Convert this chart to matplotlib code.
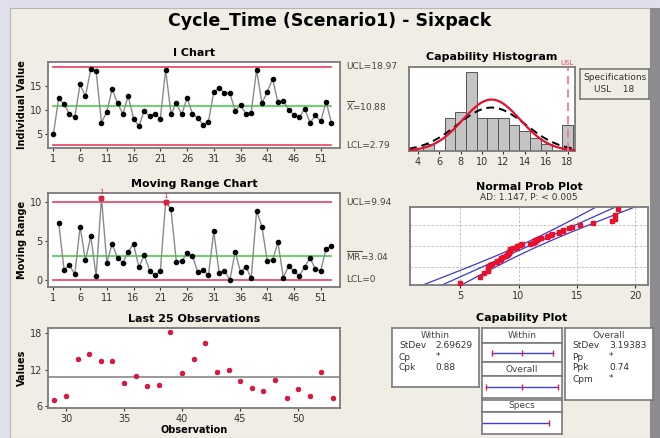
from statistics import NormalDist

import matplotlib
matplotlib.use("Agg")
import matplotlib.pyplot as plt
import numpy as np
from matplotlib.patches import Rectangle

# ---- data ----
obs_values = [5.0, 12.4, 11.2, 9.2, 8.5, 15.3, 12.8, 18.5, 18.0, 7.4,
              9.7, 14.3, 11.4, 9.2, 12.9, 8.2, 6.7, 9.9, 8.7, 9.3,
              8.2, 18.3, 9.2, 11.4, 9.1, 12.5, 9.3, 8.4, 7.0, 7.6,
              13.8, 14.6, 13.5, 13.5, 9.9, 11.0, 9.3, 9.5, 18.3, 11.4,
              13.8, 16.4, 11.6, 11.9, 10.1, 9.0, 8.5, 10.3, 7.4, 8.9,
              7.7, 11.7, 7.4]
mr_values = [7.3, 1.3, 1.9, 0.7, 6.8, 2.5, 5.6, 0.5, 10.5, 2.2,
             4.6, 2.8, 2.2, 3.6, 4.6, 1.6, 3.2, 1.2, 0.6, 1.1,
             10.0, 9.0, 2.3, 2.4, 3.4, 3.1, 1.0, 1.3, 0.6, 6.2,
             0.9, 1.2, 0.0, 3.6, 1.0, 1.7, 0.2, 8.8, 6.8, 2.4,
             2.6, 4.8, 0.3, 1.8, 1.1, 0.5, 1.7, 2.8, 1.4, 1.2,
             4.0, 4.3]
mr_flagged = [10, 22]

i_ucl, i_mean, i_lcl = 18.97, 10.88, 2.79
mr_ucl, mr_mean, mr_lcl = 9.94, 3.04, 0.0

hist_centers = [4, 5, 6, 7, 8, 9, 10, 11, 12, 13, 14, 15, 16, 17, 18]
hist_counts = [0, 1, 0, 5, 6, 12, 5, 5, 5, 4, 3, 2, 1, 0, 4]
usl = 18
sd_within = 2.69629
sd_overall = 3.19383

within_stats = [("StDev", "2.69629"), ("Cp", "*"), ("Cpk", "0.88")]
overall_stats = [("StDev", "3.19383"), ("Pp", "*"), ("Ppk", "0.74"), ("Cpm", "*")]

W, H = 660, 438
RED = "#ee4d6a"
GREEN = "#55d455"
FRAME = "#7a7a7a"
BEIGE = "#f0ede4"


def box(l, t, r, b):
    return [l / W, 1 - b / H, (r - l) / W, (b - t) / H]


def style(ax):
    ax.set_facecolor("white")
    for s in ax.spines.values():
        s.set_color(FRAME)
        s.set_linewidth(1.3)
    ax.tick_params(labelsize=7, length=2.5, width=0.8, colors="#333333", pad=1.5)


fig = plt.figure(figsize=(W / 100, H / 100), dpi=100)
fig.patch.set_facecolor("#dfe0ec")
fig.patches.append(Rectangle((10 / W, 0), 640 / W, 1 - 8 / H, transform=fig.transFigure,
                             facecolor=BEIGE, edgecolor="#b8b6ae", lw=0.8, zorder=-5))
fig.patches.append(Rectangle((650 / W, 0), 10 / W, 1 - 8 / H, transform=fig.transFigure,
                             facecolor="#8c8c90", edgecolor="none", zorder=-5))

fig.text(330 / W, 1 - 21 / H, "Cycle_Time (Scenario1) - Sixpack", ha="center", va="center",
         fontsize=12.5, fontweight="bold")

obs = np.arange(1, len(obs_values) + 1)

# ---- I chart ----
ax = fig.add_axes(box(48, 62, 340, 148))
style(ax)
for y, c in [(i_ucl, RED), (i_lcl, RED), (i_mean, GREEN)]:
    ax.plot([obs[0], obs[-1]], [y, y], color=c, lw=1.3, zorder=1)
ax.plot(obs, obs_values, color="#8a8a8a", lw=1.0, marker="o", ms=3,
        mfc="black", mec="black", zorder=2)
ax.set_xlim(0, 54.6)
ax.set_ylim(2.2, 19.9)
ax.set_xticks(range(1, 54, 5))
ax.set_yticks([5, 10, 15])
ax.set_title("I Chart", fontsize=8, fontweight="bold", pad=4)
ax.set_ylabel("Individual Value", fontsize=7, fontweight="bold", labelpad=2)
lab = dict(fontsize=6.5, color="#444444", va="center", transform=ax.get_yaxis_transform())
ax.text(1.02, i_ucl, "UCL=18.97", **lab)
ax.text(1.02, i_mean, r"$\overline{\mathrm{X}}$=10.88", **lab)
ax.text(1.02, i_lcl, "LCL=2.79", **lab)

# ---- Moving range chart ----
ax = fig.add_axes(box(48, 193, 340, 287))
style(ax)
mr_obs = obs[1:]
for y, c in [(mr_ucl, RED), (mr_lcl, RED), (mr_mean, GREEN)]:
    ax.plot([obs[0], obs[-1]], [y, y], color=c, lw=1.3, zorder=1)
ax.plot(mr_obs, mr_values, color="#8a8a8a", lw=1.0, marker="o", ms=3,
        mfc="black", mec="black", zorder=2)
for k in mr_flagged:
    v = mr_values[k - 2]
    ax.plot([k], [v], marker="s", ms=3.5, color="#e0203c", zorder=3)
    ax.text(k, v + 0.35, "1", fontsize=5, color="#c03050", ha="center", va="bottom")
ax.set_xlim(0, 54.6)
ax.set_ylim(-0.9, 11.1)
ax.set_xticks(range(1, 54, 5))
ax.set_yticks([0, 5, 10])
ax.set_title("Moving Range Chart", fontsize=8, fontweight="bold", pad=4)
ax.set_ylabel("Moving Range", fontsize=7, fontweight="bold", labelpad=2)
lab = dict(fontsize=6.5, color="#444444", va="center", transform=ax.get_yaxis_transform())
ax.text(1.02, mr_ucl, "UCL=9.94", **lab)
ax.text(1.02, mr_mean, r"$\overline{\mathrm{MR}}$=3.04", **lab)
ax.text(1.02, mr_lcl, "LCL=0", **lab)

# ---- Last 25 observations ----
ax = fig.add_axes(box(48, 328, 340, 408))
style(ax)
last_obs = obs[-25:]
last_vals = obs_values[-25:]
ax.axhline(i_mean, color="#888888", lw=1.2, zorder=1)
ax.scatter(last_obs, last_vals, s=12, color="#e8123c", edgecolors="#b0002a", lw=0.4, zorder=2)
ax.set_xlim(28.45, 53.6)
ax.set_ylim(5.7, 18.9)
ax.set_xticks([30, 35, 40, 45, 50])
ax.set_yticks([6, 12, 18])
ax.set_title("Last 25 Observations", fontsize=8, fontweight="bold", pad=4)
ax.set_xlabel("Observation", fontsize=7, fontweight="bold", labelpad=1)
ax.set_ylabel("Values", fontsize=7, fontweight="bold", labelpad=2)

# ---- Capability histogram ----
ax = fig.add_axes(box(409, 67, 575, 151))
style(ax)
ax.bar(hist_centers, hist_counts, width=1.0, color="#c4c4c4", edgecolor="#555555", lw=0.7, zorder=1)
xs = np.linspace(3.15, 18.7, 200)
n = len(obs_values)
ax.plot(xs, [n * NormalDist(i_mean, sd_within).pdf(x) for x in xs], color="#e3102e", lw=1.6, zorder=3)
ax.plot(xs, [n * NormalDist(i_mean, sd_overall).pdf(x) for x in xs], color="black", lw=1.4,
        ls=(0, (4, 2.5)), zorder=2)
ax.axvline(usl, color="#e87890", lw=1.2, ls=(0, (5, 3)), zorder=4)
ax.text(usl, 13.0, "USL", fontsize=5, color="#e05070", ha="center", va="bottom")
ax.set_xlim(3.15, 18.7)
ax.set_ylim(0, 12.8)
ax.set_xticks(range(4, 19, 2))
ax.set_yticks([])
ax.set_title("Capability Histogram", fontsize=8, fontweight="bold", pad=5)

ax = fig.add_axes(box(580, 69, 649, 99))
ax.set_facecolor(BEIGE)
ax.set_xticks([]); ax.set_yticks([])
for s in ax.spines.values():
    s.set_color(FRAME); s.set_linewidth(1.2)
ax.text(0.5, 0.72, "Specifications", fontsize=6.5, ha="center", va="center", color="#333333")
ax.text(0.5, 0.3, "USL    18", fontsize=6.5, ha="center", va="center", color="#333333")

# ---- Normal probability plot ----
ax = fig.add_axes(box(410, 207, 648, 285))
style(ax)
nd = NormalDist()
sorted_vals = sorted(obs_values)
z_pts = [nd.inv_cdf((i + 1 - 0.3) / (n + 0.4)) for i in range(n)]
zz = np.linspace(-2.6, 2.6, 100)
fit = i_mean + sd_overall * zz
half = 1.96 * sd_overall * np.sqrt(1 / n + zz ** 2 / (2 * n))
ax.plot(fit, zz, color="#3a3ad0", lw=0.9, zorder=2)
ax.plot(fit - half, zz, color="#3a3ad0", lw=0.9, zorder=2)
ax.plot(fit + half, zz, color="#3a3ad0", lw=0.9, zorder=2)
ax.plot(sorted_vals, z_pts, ls="none", marker="s", ms=2.2, color="#e8102a", zorder=3)
zlim = nd.inv_cdf(0.99)
ax.set_ylim(-zlim, zlim)
ax.set_xlim(0.7, 21.1)
ax.set_xticks([5, 10, 15, 20])
ax.set_yticks([nd.inv_cdf(p) for p in (0.1, 0.5, 0.9)])
ax.tick_params(axis="y", labelleft=False, length=0)
ax.grid(True, color="#b8b8b8", ls=(0, (3, 2)), lw=0.6, zorder=0)
ax.set_title("Normal Prob Plot", fontsize=8, fontweight="bold", pad=12)
ax.text(0.5, 1.06, "AD: 1.147, P: < 0.005", transform=ax.transAxes, fontsize=6.5,
        ha="center", va="bottom", color="#333333")

# ---- Capability plot ----
fig.text(522 / W, 1 - 318 / H, "Capability Plot", fontsize=8, fontweight="bold",
         ha="center", va="center")


def stat_box(l, t, r, b, title, rows):
    a = fig.add_axes(box(l, t, r, b))
    a.set_facecolor("white")
    a.set_xticks([]); a.set_yticks([])
    for s in a.spines.values():
        s.set_color(FRAME); s.set_linewidth(1.2)
    hpx = b - t
    a.text(0.5, 1 - 7 / hpx, title, fontsize=6.5, ha="center", va="center", color="#444444",
           transform=a.transAxes)
    for i, (k, v) in enumerate(rows):
        y = 1 - (18 + 11 * i) / hpx
        a.text(0.08, y, k, fontsize=6.5, va="center", color="#333333", transform=a.transAxes)
        a.text(0.5, y, v, fontsize=6.5, va="center", color="#333333", transform=a.transAxes)


stat_box(392, 328, 479, 387, "Within", within_stats)
stat_box(565, 328, 653, 400, "Overall", overall_stats)


def header_box(t, b, label):
    a = fig.add_axes(box(482, t, 562, b))
    a.set_facecolor("white")
    a.set_xticks([]); a.set_yticks([])
    for s in a.spines.values():
        s.set_color(FRAME); s.set_linewidth(1.2)
    a.text(0.5, 0.5, label, fontsize=6.5, ha="center", va="center", color="#444444",
           transform=a.transAxes)


def line_box(t, b, lo, mid, hi):
    a = fig.add_axes(box(482, t, 562, b))
    a.set_facecolor("white")
    a.set_xticks([]); a.set_yticks([])
    for s in a.spines.values():
        s.set_color(FRAME); s.set_linewidth(1.2)
    a.set_xlim(0.15, 21.5)
    a.set_ylim(-1, 1)
    a.plot([lo, hi], [0, 0], color="#4040d8", lw=1.0, zorder=1)
    marks = [m for m in (lo, mid, hi) if m is not None]
    a.plot(marks, [0] * len(marks), ls="none", marker="|", ms=4, mew=1.0,
           color="#e0203c", zorder=2)


header_box(328, 343, "Within")
line_box(343, 362, i_mean - 3 * sd_within, i_mean, i_mean + 3 * sd_within)
header_box(362, 376, "Overall")
line_box(376, 398, i_mean - 3 * sd_overall, i_mean, i_mean + 3 * sd_overall)
header_box(400, 412, "Specs")
line_box(412, 434, 0.0, None, usl)

fig.savefig("out.png", dpi=100, facecolor=fig.get_facecolor())
